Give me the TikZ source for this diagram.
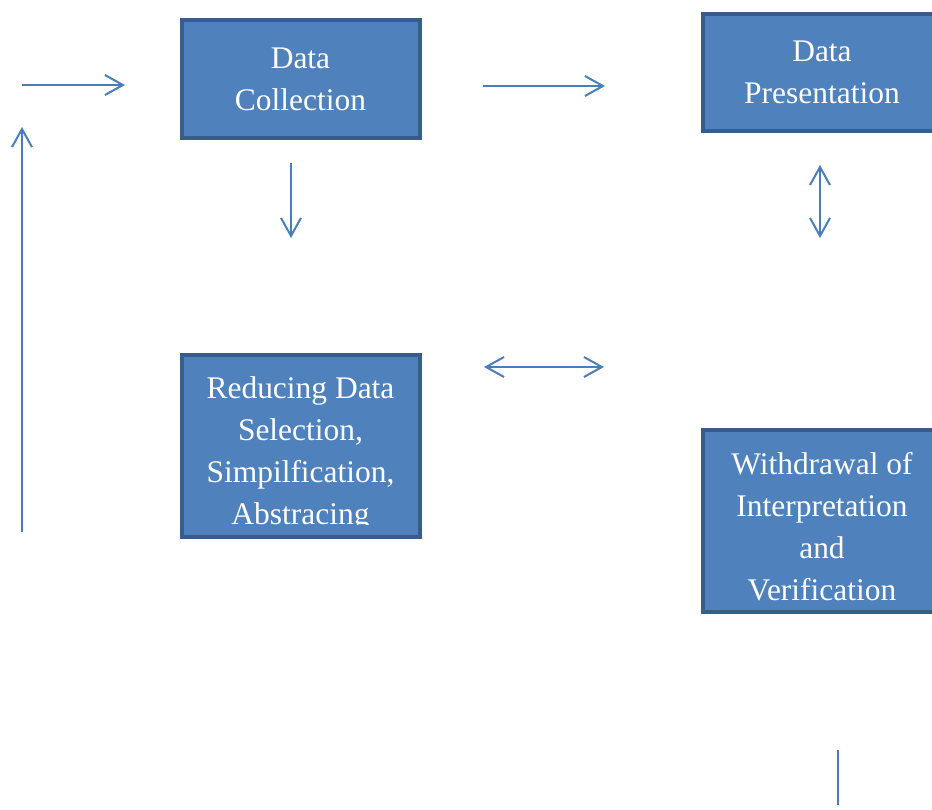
\documentclass[tikz,border=0pt]{standalone}
\usepackage{fontspec}
\setmainfont{Liberation Serif}
\usetikzlibrary{arrows.meta}

\definecolor{boxfill}{RGB}{79,129,189}
\definecolor{boxline}{RGB}{56,93,138}
\definecolor{flowblue}{RGB}{74,126,187}

\tikzset{
  blk/.style={rectangle, draw=boxline, line width=3pt, fill=boxfill,
    minimum width=178.5pt, text=white, align=center, inner sep=0pt,
    font=\fontsize{23.6pt}{31.5pt}\selectfont},
  blktxt/.style={text=white, align=center, inner sep=0pt,
    font=\fontsize{23.6pt}{31.5pt}\selectfont},
  barb/.tip={Straight Barb[length=13.5pt,width=15pt]},
  flow/.style={draw=flowblue, line width=1.5pt, -{barb}},
  flowboth/.style={draw=flowblue, line width=1.5pt, {barb}-{barb}},
}

\begin{document}
\begin{tikzpicture}[x=0.75pt,y=0.75pt,yscale=-1,xscale=1]
\useasboundingbox (0,0) rectangle (932,810);

%Shape: Rectangle [Data Collection]
\node[blk, minimum height=88.5pt] (collect) at (300.5,79) {Data\\Collection};
%Shape: Rectangle [Data Presentation]
\node[blk, minimum height=87.75pt] (present) at (822,72.5) {Data\\Presentation};
%Shape: Rectangle [Reducing Data]
\node[blk, minimum height=136.5pt] (reduce) at (300.5,446) {};
%Shape: Rectangle [Withdrawal]
\node[blk, minimum height=136.5pt] (verify) at (822,521) {};

% Text Node (overflowing text is cut at the inner margin)
\begin{scope}
\clip (179,353) rectangle (422,524);
\node[blktxt, anchor=north] (reducetxt) at (300.5,376) {Reducing Data\\Selection,\\Simpilfication,\\Abstracing};
\end{scope}
% Text Node
\node[blktxt, anchor=north] (verifytxt) at (822,452) {Withdrawal of\\Interpretation\\and\\Verification};

% free ends of the connectors
\coordinate (loopbot) at (22,532);
\coordinate (looptop) at (22,127);
\coordinate (instart) at (22,85);
\coordinate (inend) at (125,85);
\coordinate (cpstart) at (483,86);
\coordinate (cpend) at (605,86);
\coordinate (crstart) at (291,163);
\coordinate (crend) at (291,238);
\coordinate (pvtop) at (820,165);
\coordinate (pvbot) at (820,238);
\coordinate (rvleft) at (484,367);
\coordinate (rvright) at (604,367);
\coordinate (outtop) at (838,750);
\coordinate (outbot) at (838,805);

%Straight Lines
\draw[flow] (loopbot) -- (looptop);
\draw[flow] (instart) -- (inend);
\draw[flow] (cpstart) -- (cpend);
\draw[flow] (crstart) -- (crend);
\draw[flowboth] (pvtop) -- (pvbot);
\draw[flowboth] (rvleft) -- (rvright);
\draw[draw=flowblue, line width=1.5pt] (outtop) -- (outbot);

\end{tikzpicture}
\end{document}
